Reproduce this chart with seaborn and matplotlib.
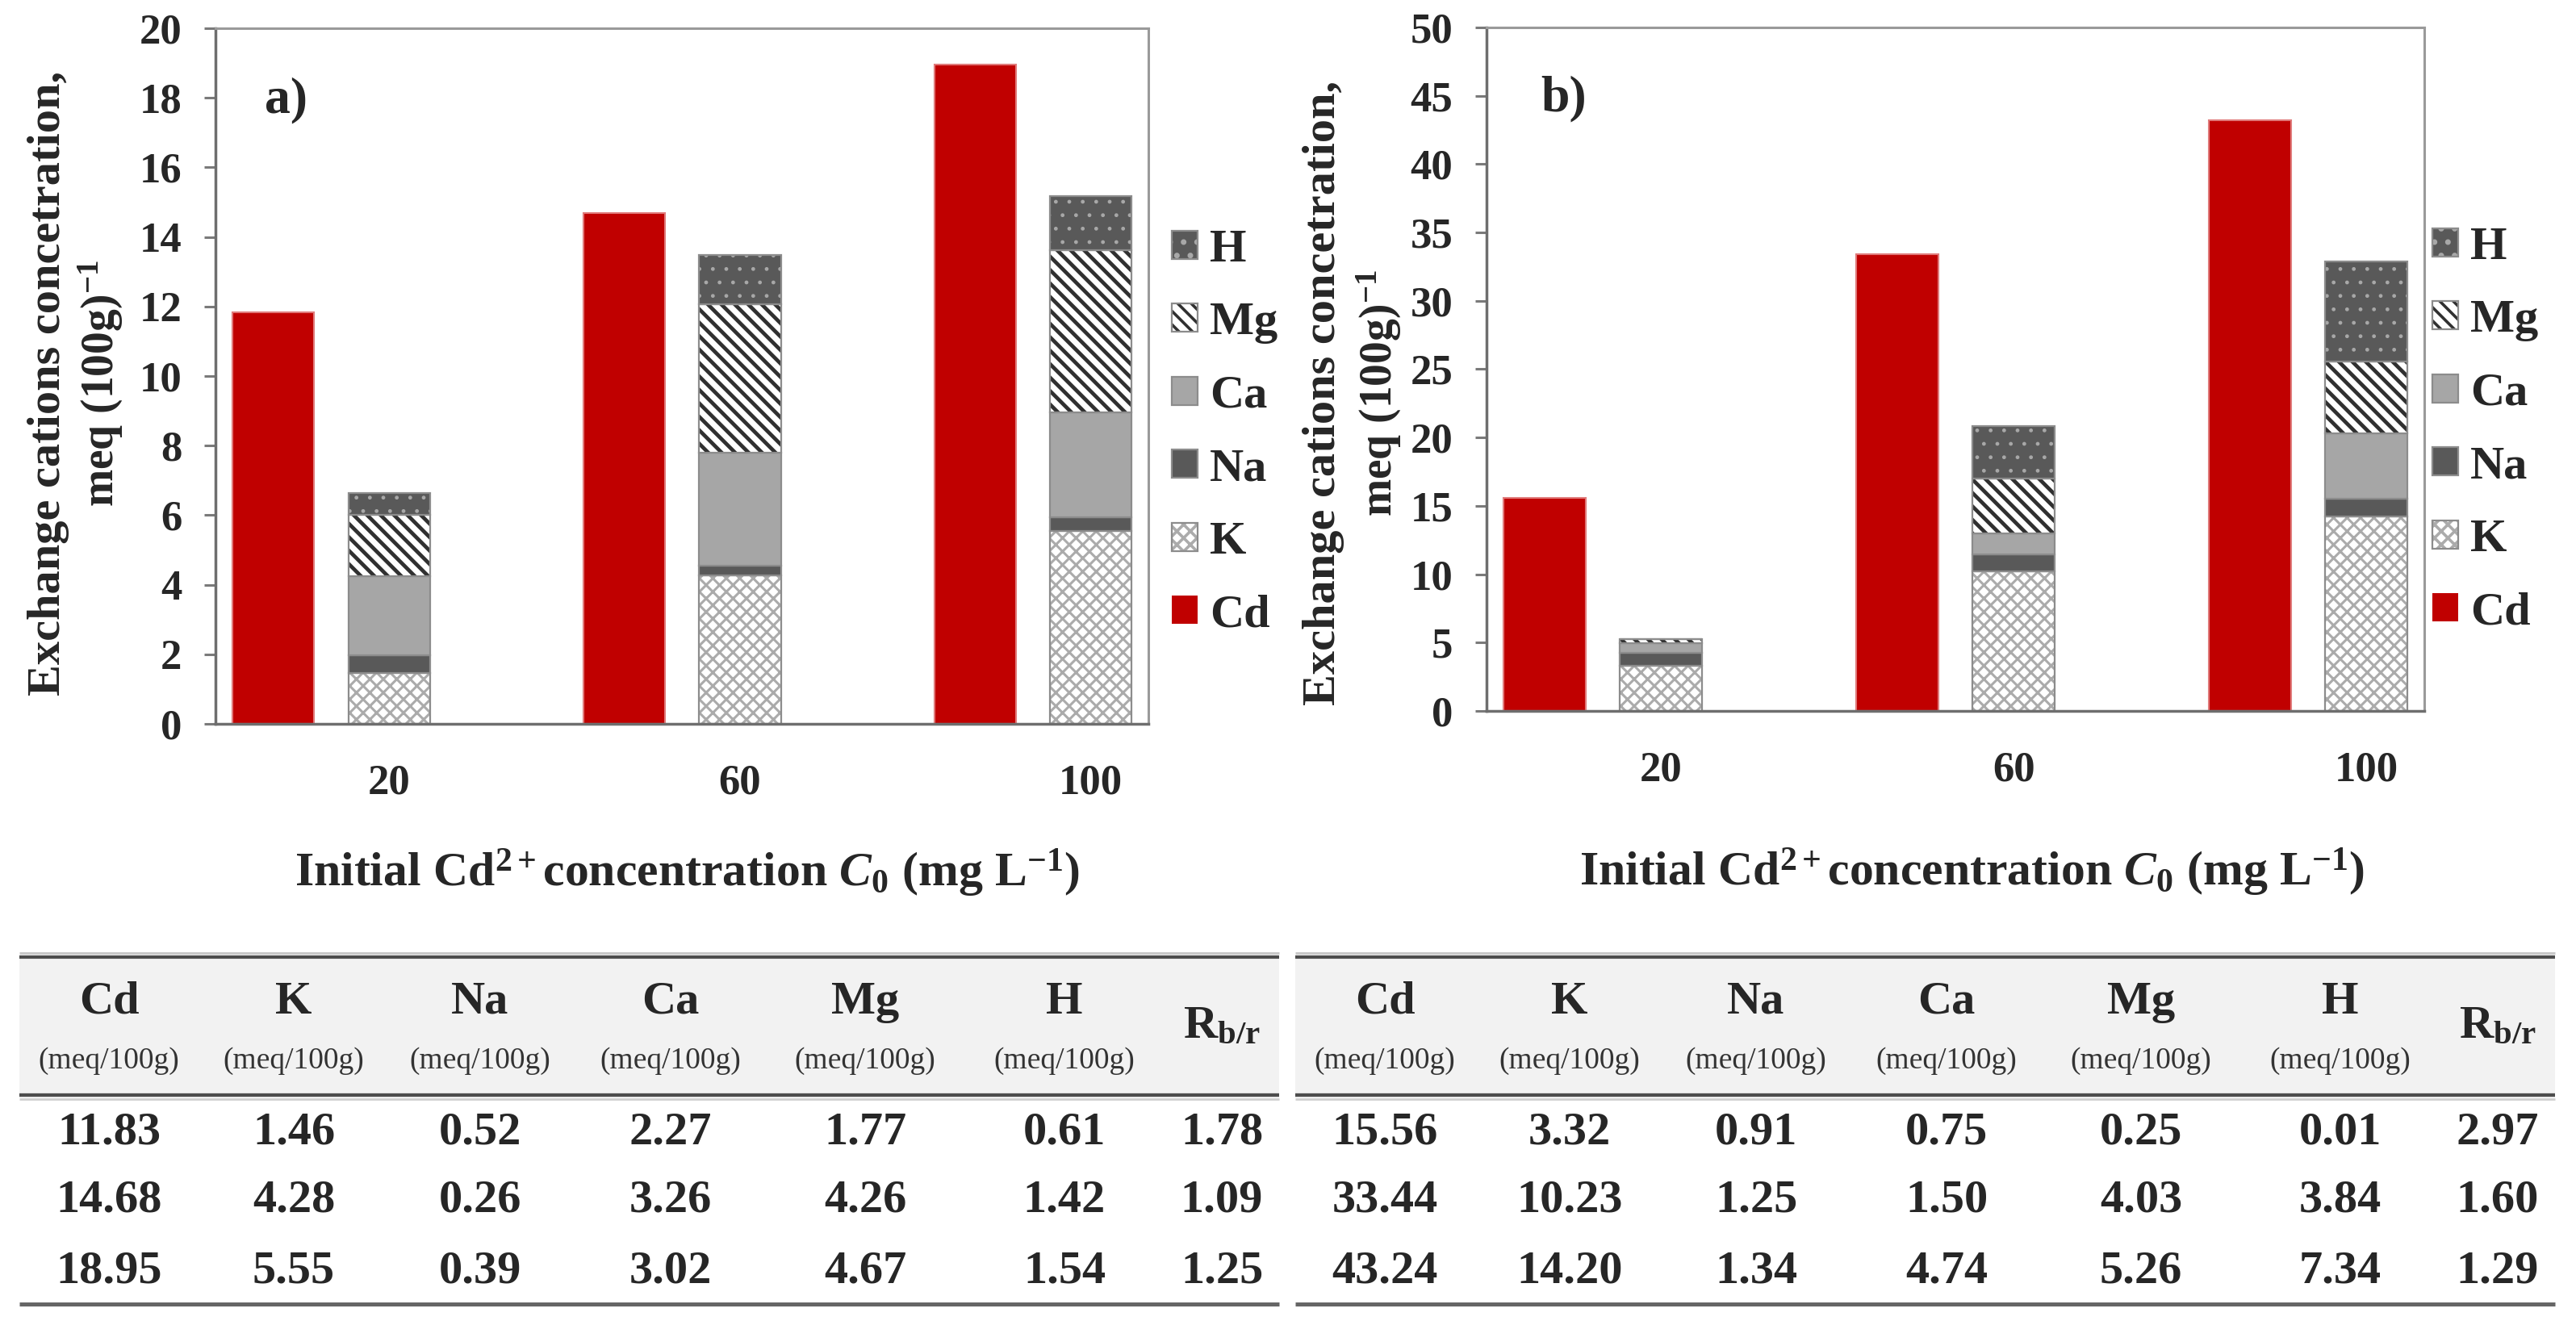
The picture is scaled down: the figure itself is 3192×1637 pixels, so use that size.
import matplotlib
matplotlib.use("Agg")
import matplotlib.pyplot as plt
import seaborn as sns
import pandas as pd
import numpy as np
from matplotlib.patches import Patch, Rectangle
from matplotlib.legend_handler import HandlerTuple

# ---- data ----
concentrations = ["20", "60", "100"]
stack_order = ["K", "Na", "Ca", "Mg", "H"]
legend_order = ["H", "Mg", "Ca", "Na", "K", "Cd"]

# panel a)
cd_a = [11.83, 14.68, 18.95]
k_a = [1.46, 4.28, 5.55]
na_a = [0.52, 0.26, 0.39]
ca_a = [2.27, 3.26, 3.02]
mg_a = [1.77, 4.26, 4.67]
h_a = [0.61, 1.42, 1.54]
rbr_a = [1.78, 1.09, 1.25]

# panel b)
cd_b = [15.56, 33.44, 43.24]
k_b = [3.32, 10.23, 14.20]
na_b = [0.91, 1.25, 1.34]
ca_b = [0.75, 1.50, 4.74]
mg_b = [0.25, 4.03, 5.26]
h_b = [0.01, 3.84, 7.34]
rbr_b = [2.97, 1.60, 1.29]

yticks_a = list(range(0, 21, 2))
yticks_b = list(range(0, 51, 5))

table_header = ["Cd", "K", "Na", "Ca", "Mg", "H"]
unit_label = "(meq/100g)"

# ---- styles ----
serif = "Liberation Serif"
sns.set_theme(style="white")
plt.rcParams["font.family"] = [serif, "DejaVu Serif"]
plt.rcParams["font.weight"] = "bold"
plt.rcParams["mathtext.fontset"] = "custom"
plt.rcParams["mathtext.rm"] = serif + ":bold"
plt.rcParams["mathtext.bf"] = serif + ":bold"
plt.rcParams["mathtext.it"] = serif + ":italic:bold"
plt.rcParams["hatch.linewidth"] = 2.6

styles = {
    "Cd": dict(face="#C00000", hc="#e07a7a", hatch=None, hlw=2.6),
    "K": dict(face="white", hc="#ababab", hatch="xx", hlw=2.2),
    "Na": dict(face="#595959", hc="#595959", hatch=None, hlw=2.6),
    "Ca": dict(face="#a6a6a6", hc="#a6a6a6", hatch=None, hlw=2.6),
    "Mg": dict(face="white", hc="#303030", hatch="\\\\", hlw=3.4),
    "H": dict(face="#595959", hc="#a8a8a8", hatch=".", hlw=1.0),
}
outline = "#8c8c8c"

W = 3192
H = 1637
fig = plt.figure(figsize=(W / 100, H / 100), dpi=100)

bar_w = 0.233
cd_shift = 0.33


def draw_panel(rect, cd, parts, yticks, tag, tag_xy):
    ax = fig.add_axes(rect)
    pos = np.arange(len(concentrations))

    df = pd.DataFrame({"pos": pos - cd_shift, "Cd": cd})
    sns.barplot(data=df, x="pos", y="Cd", native_scale=True, width=bar_w,
                color=styles["Cd"]["face"], edgecolor=styles["Cd"]["hc"],
                linewidth=1.5, saturation=1, orient="x", errorbar=None, ax=ax)

    bottom = np.zeros(len(pos))
    for name in stack_order:
        vals = np.array(parts[name])
        st = styles[name]
        with plt.rc_context({"hatch.linewidth": st["hlw"]}):
            ax.bar(pos, vals, width=bar_w, bottom=bottom, color=st["face"],
                   edgecolor=st["hc"], linewidth=0, hatch=st["hatch"])
        ax.bar(pos, vals, width=bar_w, bottom=bottom, fill=False,
               edgecolor=outline, linewidth=1.6)
        bottom = bottom + vals

    ax.set_xlim(-0.495, 2.164)
    ax.set_ylim(yticks[0], yticks[-1])
    ax.set_yticks(yticks)
    ax.set_xticks(pos, concentrations)
    ax.set_xlabel("")
    ax.set_ylabel("")
    ax.tick_params(axis="y", left=True, length=10, width=2.2, color="#7a7a7a",
                   direction="out", pad=20, labelsize=38)
    ax.tick_params(axis="x", bottom=False, length=0, pad=36, labelsize=38)
    for lab in ax.get_xticklabels() + ax.get_yticklabels():
        lab.set_fontweight("bold")
        lab.set_family(serif)
    for side in ["left", "bottom"]:
        ax.spines[side].set_color("#6e6e6e")
        ax.spines[side].set_linewidth(2.5)
    for side in ["top", "right"]:
        ax.spines[side].set_color("#9a9a9a")
        ax.spines[side].set_linewidth(2.2)
    ax.text(tag_xy[0], tag_xy[1], tag, transform=ax.transAxes, fontsize=46,
            family=serif, fontweight="bold", ha="left", va="center")
    return ax


parts_a = {"K": k_a, "Na": na_a, "Ca": ca_a, "Mg": mg_a, "H": h_a}
parts_b = {"K": k_b, "Na": na_b, "Ca": ca_b, "Mg": mg_b, "H": h_b}

ax_a = draw_panel([267 / W, 1 - 897 / H, 1156 / W, 862 / H], cd_a, parts_a,
                  yticks_a, "a)", (0.053, 0.896))
ax_b = draw_panel([1842 / W, 1 - 881 / H, 1162 / W, 847 / H], cd_b, parts_b,
                  yticks_b, "b)", (0.058, 0.895))


def legend_handles():
    hs = []
    for name in legend_order:
        st = styles[name]
        if name == "Cd":
            hs.append(Patch(facecolor=st["face"], edgecolor=st["face"], linewidth=0))
        else:
            hs.append((Patch(facecolor=st["face"], edgecolor=st["hc"], hatch=st["hatch"], linewidth=0),
                       Patch(fill=False, edgecolor=outline, linewidth=1.6)))
    return hs


for ax, anchor in [(ax_a, (1452 / W, 1 - 536 / H)), (ax_b, (3014 / W, 1 - 533 / H))]:
    with plt.rc_context({"hatch.linewidth": 2.6}):
        ax.legend(legend_handles(), legend_order, loc="center left",
                  bbox_to_anchor=anchor, bbox_transform=fig.transFigure,
                  frameon=False, handlelength=0.55, handleheight=0.55,
                  handletextpad=0.25, labelspacing=0.66, borderpad=0, borderaxespad=0,
                  prop={"family": serif, "weight": "bold", "size": 42},
                  handler_map={tuple: HandlerTuple(ndivide=1, pad=0)})

# axis titles
line1 = "Exchange cations concetration,"
line2 = "meq (100g)$^{-1}$"
xlab = (r"$\mathrm{Initial\ Cd^{2+}concentration}\ \mathit{C_0}\ "
        r"\mathrm{(mg\ L^{-1})}$")
for x1, x2, yc in [(60, 125, 475), (1640, 1709, 487)]:
    fig.text(x1 / W, 1 - yc / H, line1, rotation=90, ha="center", va="center",
             fontsize=42, family=serif, fontweight="bold")
    fig.text(x2 / W, 1 - yc / H, line2, rotation=90, ha="center", va="center",
             fontsize=40, family=serif, fontweight="bold")
for xc, yb in [(852, 1098), (2444, 1097)]:
    fig.text(xc / W, 1 - yb / H, xlab, ha="center", va="baseline",
             fontsize=43, family=serif, fontweight="bold")

# ---- tables ----
tab = fig.add_axes([0, 0, 1, 1])
tab.set_xlim(0, W)
tab.set_ylim(H, 0)
tab.axis("off")

col_off = [111, 340, 571, 807, 1048, 1295, 1490]
row_y = [1403, 1488, 1575]
for x0, cols, rbr in [(24, [cd_a, k_a, na_a, ca_a, mg_a, h_a], rbr_a),
                      (1605, [cd_b, k_b, na_b, ca_b, mg_b, h_b], rbr_b)]:
    x1 = x0 + 1561
    tab.add_patch(Rectangle((x0, 1188), x1 - x0, 1354 - 1188, facecolor="#f2f2f2",
                            edgecolor="none"))
    tab.hlines(1181, x0, x1, color="#c8c8c8", lw=2.2)
    tab.hlines(1186, x0, x1, color="#4d4d4d", lw=3.0)
    tab.hlines(1357, x0, x1, color="#4d4d4d", lw=3.2)
    tab.hlines(1362, x0, x1, color="#cfcfcf", lw=2.0)
    tab.hlines(1616, x0, x1, color="#666666", lw=3.6)
    for j, name in enumerate(table_header):
        cx = x0 + col_off[j]
        tab.text(cx, 1242, name, ha="center", va="center", fontsize=42,
                 family=serif, fontweight="bold")
        tab.text(cx, 1315, unit_label, ha="center", va="center", fontsize=27,
                 family=serif, fontweight="normal", color="#333333")
        for i, v in enumerate(cols[j]):
            tab.text(cx, row_y[i], f"{v:.2f}", ha="center", va="center",
                     fontsize=42, family=serif, fontweight="bold")
    cx = x0 + col_off[6]
    tab.text(cx, 1272, "R$_{\\mathbf{b/r}}$", ha="center", va="center", fontsize=42,
             family=serif, fontweight="bold")
    for i, v in enumerate(rbr):
        tab.text(cx, row_y[i], f"{v:.2f}", ha="center", va="center",
                 fontsize=42, family=serif, fontweight="bold")

fig.savefig("out.png", dpi=100)
